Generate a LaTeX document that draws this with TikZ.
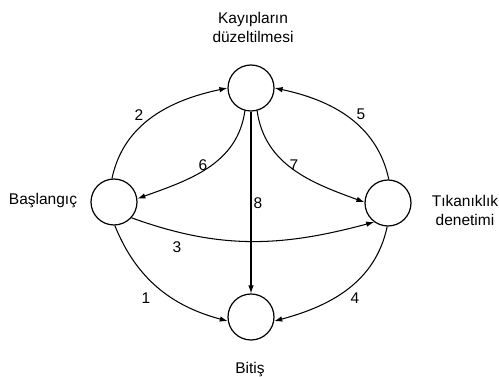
\documentclass[tikz,border=0pt]{standalone}
\usepackage{fontspec}
\setmainfont{Liberation Sans}
\usetikzlibrary{arrows.meta}
\begin{document}
\begin{tikzpicture}[x=1pt,y=1pt,
  state/.style={circle, draw, line width=1.2pt, minimum size=46pt, inner sep=0pt},
  lbl/.style={font=\fontsize{15.5}{19}\selectfont, align=center, inner sep=0pt},
  num/.style={font=\fontsize{15.5}{18}\selectfont, inner sep=0pt},
  flow/.style={draw, line width=1.05pt, -{Latex[length=8pt,width=5.5pt]}}]
\useasboundingbox (0,0) rectangle (499,-377);

% states
\node[state] (T) at (251,-88) {};
\node[state] (L) at (114,-202) {};
\node[state] (R) at (388,-203) {};
\node[state] (B) at (251,-317) {};

% state names
\node[lbl] (tT) at (253,-27.5) {Kayıpların\\düzeltilmesi};
\node[lbl] (tL) at (43,-201) {Başlangıç};
\node[lbl] (tR) at (465,-210.5) {Tıkanıklık\\denetimi};
\node[lbl] (tB) at (250,-370) {Bitiş};

% transitions
\path[flow] (L.95) to[out=78, in=192] (T.180);
\path[flow] (R.88) to[out=102, in=-12] (T.0);
\path[flow] (T.255) to[out=262, in=20] (L.8);
\path[flow] (T.285) to[out=278, in=160] (R.178);
\path[flow] (T.south) -- (B.north);
\path[flow] (L.-42) to[out=-20, in=195] (R.234);
\path[flow] (L.272) to[out=-68, in=165] (B.190);
\path[flow] (R.268) to[out=-102, in=15] (B.350);

% transition numbers
\node[num] (n1) at (146,-298) {1};
\node[num] (n2) at (139,-115) {2};
\node[num] (n3) at (177,-247) {3};
\node[num] (n4) at (355,-298) {4};
\node[num] (n5) at (361,-114) {5};
\node[num] (n6) at (203,-165) {6};
\node[num] (n7) at (294,-165) {7};
\node[num] (n8) at (258,-203) {8};
\end{tikzpicture}
\end{document}
